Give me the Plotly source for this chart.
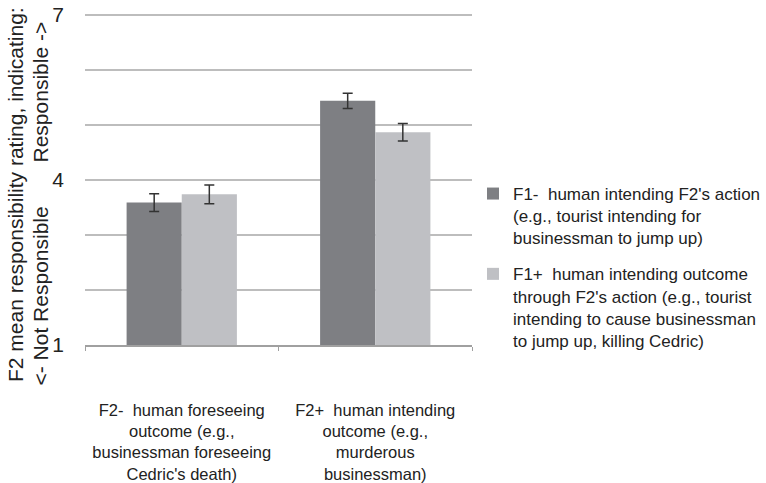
import plotly.graph_objects as go

categories = ["F2-  human foreseeing<br>outcome (e.g.,<br>businessman foreseeing<br>Cedric's death)",
              "F2+  human intending<br>outcome (e.g.,<br>murderous<br>businessman)"]
series_names = ["F1-  human intending F2's action<br>(e.g., tourist intending for<br>businessman to jump up)",
                "F1+  human intending outcome<br>through F2's action (e.g., tourist<br>intending to cause businessman<br>to jump up, killing Cedric)"]
f1_minus = [3.59, 5.44]
f1_minus_err = [0.16, 0.14]
f1_plus = [3.74, 4.87]
f1_plus_err = [0.17, 0.16]
ytick_vals = [1, 2, 3, 4, 5, 6, 7]
ytick_text = ["1", "", "", "4", "", "", "7"]

FONT = "Liberation Sans, Arial, Helvetica, sans-serif"
TXT = "#222222"

fig = go.Figure()
fig.add_trace(go.Bar(x=categories, y=f1_minus, name=series_names[0],
                     marker=dict(color="#7e7f83", line=dict(width=0)),
                     legendgroup="a",
                     error_y=dict(type="data", array=f1_minus_err, color="#333333", thickness=1.5, width=5)))
fig.add_trace(go.Bar(x=categories, y=f1_plus, name=series_names[1],
                     marker=dict(color="#bfc0c4", line=dict(width=0)),
                     legendgroup="b",
                     error_y=dict(type="data", array=f1_plus_err, color="#333333", thickness=1.5, width=5)))

L, R, T, B = 85, 472, 14, 345
W, H = 766, 483
pw, ph = R - L, B - T

def px(x):
    return (x - L) / pw

def py(y):
    return (B - y) / ph

fig.update_layout(
    width=W, height=H,
    margin=dict(l=L, r=W - R, t=T, b=H - B, pad=0, autoexpand=False),
    paper_bgcolor="white", plot_bgcolor="white",
    font=dict(family=FONT, color=TXT, size=17),
    barmode="group", bargap=0.43, bargroupgap=0,
    showlegend=True,
    legend=dict(xref="container", yref="container",
                x=473 / W, xanchor="left", y=1 - 176 / H, yanchor="top",
                font=dict(size=17, family=FONT, color=TXT),
                tracegroupgap=11, valign="top", itemwidth=30,
                bgcolor="rgba(0,0,0,0)"),
    xaxis=dict(showline=True, linecolor="#a0a0a0", linewidth=1.5, automargin=False,
               ticks="outside", tickson="boundaries", ticklen=4, tickcolor="#a0a0a0",
               tickfont=dict(size=16.5, family=FONT, color=TXT), ticklabelstandoff=49,
               showgrid=False),
    yaxis=dict(range=[1, 7.02], tickvals=ytick_vals, ticktext=ytick_text, automargin=False,
               showgrid=True, gridcolor="#bdbdbd", gridwidth=1.5,
               zeroline=False, showline=False, ticks="",
               tickfont=dict(size=21, family=FONT, color=TXT), ticklabelstandoff=20),
)

ann_font = dict(size=21, family=FONT, color=TXT)
fig.add_annotation(text="F2 mean responsibility rating, indicating:", textangle=-90,
                   xref="paper", yref="paper", x=px(15), y=py(195),
                   xanchor="center", yanchor="middle", showarrow=False, font=ann_font)
fig.add_annotation(text="<- Not Responsible", textangle=-90,
                   xref="paper", yref="paper", x=px(40), y=py(388),
                   xanchor="center", yanchor="bottom", showarrow=False, font=ann_font)
fig.add_annotation(text="Responsible ->", textangle=-90,
                   xref="paper", yref="paper", x=px(40), y=py(20),
                   xanchor="center", yanchor="top", showarrow=False, font=ann_font)

fig.write_html("out.html", config={"displayModeBar": False},
               post_script="document.body.style.margin='0';document.body.style.overflow='hidden';")
